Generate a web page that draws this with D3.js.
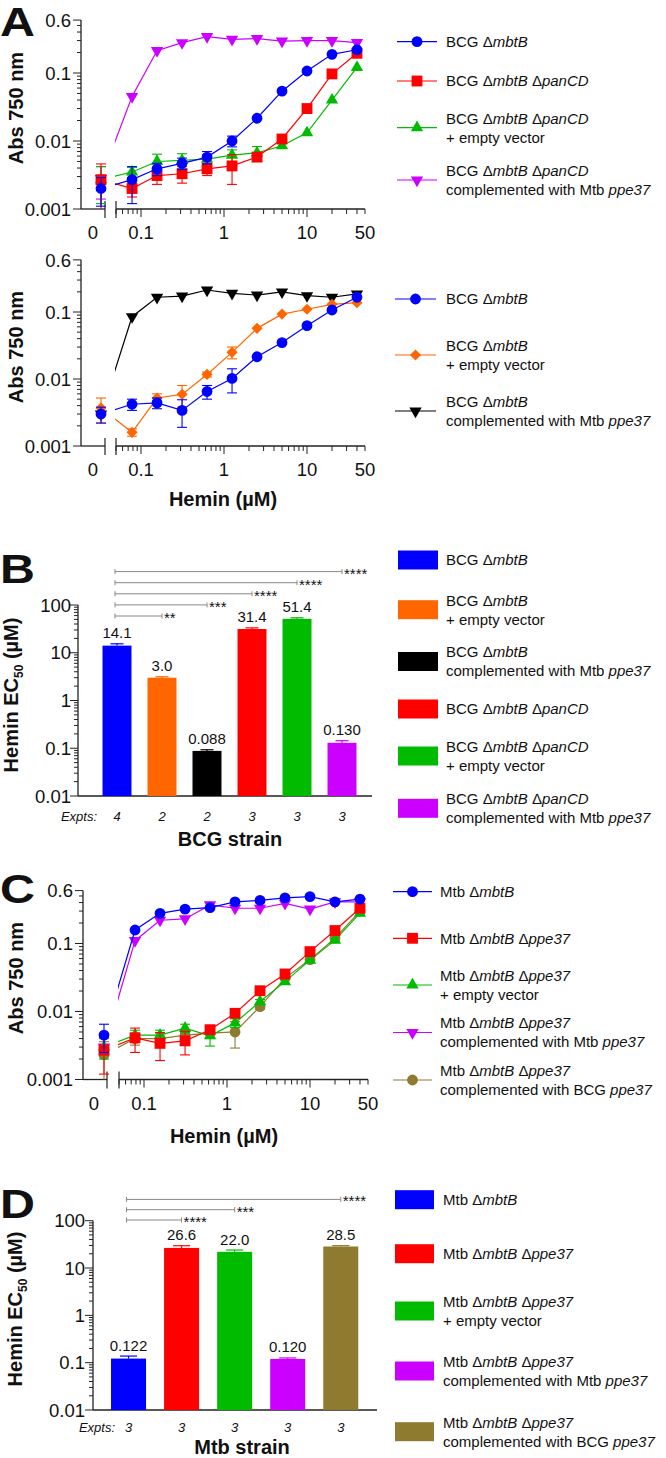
<!DOCTYPE html>
<html><head><meta charset="utf-8">
<script src="https://cdnjs.cloudflare.com/ajax/libs/d3/7.8.5/d3.min.js"></script>
<style>
body{margin:0;background:#fff}
svg{display:block}
text{font-family:"Liberation Sans",Arial,Helvetica,sans-serif;fill:#111}
</style></head><body>
<svg id="fig" width="666" height="1458"></svg>
<script>
// ================= DATA =================
const hemin = [0, 0.078, 0.156, 0.3125, 0.625, 1.25, 2.5, 5, 10, 20, 40];
const curveXTicks = [0.1, 1, 10, 50];
const curveXTickLabels = ["0.1", "1", "10", "50"];
const curveYTicks = [0.001, 0.01, 0.1, 0.6];
const curveYTickLabels = ["0.001", "0.01", "0.1", "0.6"];
const barYTicks = [0.01, 0.1, 1, 10, 100];
const barYTickLabels = ["0.01", "0.1", "1", "10", "100"];

// Panel A (top)
const aTopNames = ["BCG Δ_mbtB_", "BCG Δ_mbtB_ Δ_panCD_", "BCG Δ_mbtB_ Δ_panCD_\n+ empty vector", "BCG Δ_mbtB_ Δ_panCD_\ncomplemented with Mtb _ppe37_"];
const aTopMbtB      = [0.0020, 0.0027, 0.0039, 0.0047, 0.0058, 0.0100, 0.0216, 0.054, 0.107, 0.188, 0.22];
const aTopMbtBErr   = [0.0009, 0.0015, 0.0008, 0.0009, 0.0012, 0.0018, 0, 0, 0, 0, 0];
const aTopPanCD     = [0.0027, 0.0020, 0.0031, 0.0033, 0.0039, 0.0043, 0.0058, 0.0107, 0.030, 0.097, 0.195];
const aTopPanCDErr  = [0.0019, 0.0005, 0.0008, 0.0009, 0.0008, 0.0020, 0.0006, 0, 0, 0, 0];
const aTopEmpty     = [0.0027, 0.0035, 0.0050, 0.0052, 0.0054, 0.0062, 0.0067, 0.0085, 0.0132, 0.040, 0.121];
const aTopEmptyErr  = [0.0015, 0.0006, 0.0014, 0.0013, 0.0009, 0.0012, 0.0016, 0, 0, 0, 0];
const aTopComp      = [0.0028, 0.045, 0.213, 0.279, 0.342, 0.313, 0.32, 0.295, 0.30, 0.30, 0.28];
const aTopCompErr   = [0.0014, 0, 0, 0, 0, 0, 0, 0, 0, 0, 0];

// Panel A (bottom)
const aBotNames = ["BCG Δ_mbtB_", "BCG Δ_mbtB_\n+ empty vector", "BCG Δ_mbtB_\ncomplemented with Mtb _ppe37_"];
const aBotMbtB      = [0.0030, 0.0042, 0.0044, 0.0034, 0.0065, 0.0102, 0.0215, 0.035, 0.0625, 0.107, 0.166];
const aBotMbtBErr   = [0.0008, 0.0008, 0.0008, 0.0015, 0.0015, 0.0040, 0, 0, 0, 0, 0];
const aBotEmpty     = [0.0037, 0.0016, 0.0052, 0.0059, 0.0117, 0.025, 0.057, 0.093, 0.11, 0.13, 0.138];
const aBotEmptyErr  = [0.0015, 0.0002, 0.0008, 0.0021, 0.0010, 0.0050, 0, 0, 0, 0, 0];
const aBotComp      = [0.0030, 0.085, 0.166, 0.173, 0.213, 0.19, 0.179, 0.199, 0.175, 0.166, 0.186];
const aBotCompErr   = [0, 0, 0, 0, 0, 0, 0, 0, 0, 0, 0];

// Panel B
const bStrains = ["BCG Δ_mbtB_", "BCG Δ_mbtB_\n+ empty vector", "BCG Δ_mbtB_\ncomplemented with Mtb _ppe37_", "BCG Δ_mbtB_ Δ_panCD_", "BCG Δ_mbtB_ Δ_panCD_\n+ empty vector", "BCG Δ_mbtB_ Δ_panCD_\ncomplemented with Mtb _ppe37_"];
const bEC50 = [14.1, 3.0, 0.088, 31.4, 51.4, 0.130];
const bEC50Labels = ["14.1", "3.0", "0.088", "31.4", "51.4", "0.130"];
const bErr = [1.3, 0.15, 0.005, 1.8, 2.6, 0.014];
const bExpts = [4, 2, 2, 3, 3, 3];
const bSigTargets = [1, 2, 3, 4, 5];
const bSigLabels = ["**", "***", "****", "****", "****"];

// Panel C
const cNames = ["Mtb Δ_mbtB_", "Mtb Δ_mbtB_ Δ_ppe37_", "Mtb Δ_mbtB_ Δ_ppe37_\n+ empty vector", "Mtb Δ_mbtB_ Δ_ppe37_\ncomplemented with Mtb _ppe37_", "Mtb Δ_mbtB_ Δ_ppe37_\ncomplemented with BCG _ppe37_"];
const cMbtB        = [0.0045, 0.158, 0.278, 0.32, 0.336, 0.41, 0.43, 0.47, 0.49, 0.41, 0.45];
const cMbtBErr     = [0.0020, 0, 0, 0, 0, 0, 0, 0, 0, 0, 0];
const cPpe37       = [0.0027, 0.0041, 0.0034, 0.0037, 0.0054, 0.0094, 0.0202, 0.0356, 0.076, 0.155, 0.33];
const cPpe37Err    = [0.0015, 0.0016, 0.0015, 0.0014, 0.0008, 0.0012, 0.0020, 0, 0, 0, 0];
const cEmpty       = [0.0030, 0.0045, 0.0045, 0.0057, 0.0044, 0.0068, 0.014, 0.0275, 0.057, 0.112, 0.28];
const cEmptyErr    = [0.0010, 0.0008, 0.0008, 0.0008, 0.0013, 0.0010, 0.0010, 0, 0, 0, 0];
const cCompMtb     = [0.0030, 0.11, 0.22, 0.23, 0.37, 0.33, 0.33, 0.39, 0.32, 0.41, 0.41];
const cCompMtbErr  = [0, 0, 0, 0, 0, 0, 0, 0, 0, 0, 0];
const cCompBcg     = [0.0023, 0.0040, 0.0040, 0.0045, 0.0048, 0.0050, 0.0118, 0.031, 0.058, 0.12, 0.30];
const cCompBcgErr  = [0.0013, 0.0008, 0.0008, 0.0008, 0.0008, 0.0021, 0.0010, 0, 0, 0, 0];

// Panel D
const dStrains = ["Mtb Δ_mbtB_", "Mtb Δ_mbtB_ Δ_ppe37_", "Mtb Δ_mbtB_ Δ_ppe37_\n+ empty vector", "Mtb Δ_mbtB_ Δ_ppe37_\ncomplemented with Mtb _ppe37_", "Mtb Δ_mbtB_ Δ_ppe37_\ncomplemented with BCG _ppe37_"];
const dEC50 = [0.122, 26.6, 22.0, 0.120, 28.5];
const dEC50Labels = ["0.122", "26.6", "22.0", "0.120", "28.5"];
const dErr = [0.016, 3.0, 2.0, 0.006, 1.2];
const dExpts = [3, 3, 3, 3, 3];
const dSigTargets = [1, 2, 4];
const dSigLabels = ["****", "***", "****"];

// ================= STYLE =================
const COL = {blue:"#0000FF", red:"#FF0000", green:"#00BB00", magenta:"#CC00FF", orange:"#FF6600", black:"#000000", olive:"#8E7B30"};
const AX = "#222";
const svg = d3.select("#fig");

function rich(sel, str) {
  str.split("_").forEach((part, i) => {
    if (!part) return;
    sel.append("tspan").attr("font-style", i % 2 ? "italic" : "normal").text(part);
  });
}
function multiline(g, x, yc, str, size, gap) {
  const lines = str.split("\n");
  lines.forEach((ln, i) => {
    const t = g.append("text").attr("x", x)
      .attr("y", yc + (i - (lines.length - 1) / 2) * gap)
      .attr("dy", "0.36em").attr("font-size", size);
    rich(t, ln);
  });
}
function symbolPath(kind, size) {
  if (kind === "circle") return d3.symbol(d3.symbolCircle, size || 92)();
  if (kind === "square") return d3.symbol(d3.symbolSquare, size || 118)();
  if (kind === "diamond") return d3.symbol(d3.symbolSquare, size || 62)();
  return d3.symbol(d3.symbolTriangle, size || 66)();
}
function symRot(kind) { return kind === "tdown" ? 180 : (kind === "diamond" ? 45 : 0); }

function panelLetter(ch, x, y) {
  svg.append("text").attr("transform", `translate(${x},${y}) scale(1.18,1)`)
    .attr("font-size", 41).attr("font-weight", "bold").attr("fill", "#000").text(ch);
}
function yTitle(x, y, parts) {
  const t = svg.append("text").attr("transform", `translate(${x},${y}) rotate(-90)`)
    .attr("text-anchor", "middle").attr("font-size", 20).attr("font-weight", "bold");
  parts.forEach(p => {
    const s = t.append("tspan").text(p.t);
    if (p.sub) s.attr("font-size", 12).attr("dy", 5);
    if (p.after) s.attr("dy", -5);
  });
}

// ================= CURVE PANELS =================
function curvePanel(c) {
  const g = svg.append("g");
  const yB = c.yBottom;
  const y = d3.scaleLog().domain([0.001, 0.6]).range([yB, yB - c.decade * Math.log10(600)]);
  const x = d3.scaleLog().domain([0.05, 50]).range([c.x01 - c.xDecade * Math.log10(2), c.x01 + c.xDecade * Math.log10(500)]);
  const px = v => v === 0 ? c.zeroX : x(v);
  const xs = x(0.05);
  const isMajor = t => Math.abs(Math.log10(t) - Math.round(Math.log10(t))) < 1e-6;

  // y axis
  g.append("line").attr("x1", c.axisX).attr("x2", c.axisX).attr("y1", yB).attr("y2", y(0.6)).attr("stroke", AX).attr("stroke-width", 1.3);
  y.ticks().forEach(t => {
    const len = (isMajor(t) || Math.abs(t - 0.6) < 1e-9) ? 8 : 4;
    g.append("line").attr("x1", c.axisX - len).attr("x2", c.axisX).attr("y1", y(t)).attr("y2", y(t)).attr("stroke", AX).attr("stroke-width", 1);
  });
  curveYTicks.forEach((t, i) => {
    g.append("text").attr("x", c.axisX - 10).attr("y", y(t)).attr("dy", "0.36em").attr("text-anchor", "end").attr("font-size", 18.5).text(curveYTickLabels[i]);
  });
  // x axis: zero segment and log segment
  g.append("line").attr("x1", c.axisX).attr("x2", c.breakL).attr("y1", yB).attr("y2", yB).attr("stroke", AX).attr("stroke-width", 1.3);
  g.append("line").attr("x1", xs).attr("x2", x(50)).attr("y1", yB).attr("y2", yB).attr("stroke", AX).attr("stroke-width", 1.3);
  [c.breakL, xs].forEach(bx => g.append("line").attr("x1", bx).attr("x2", bx).attr("y1", yB - 8).attr("y2", yB + 9).attr("stroke", AX).attr("stroke-width", 1.2));
  x.ticks().forEach(t => {
    const len = (isMajor(t) && t < 50) ? 8 : 5;
    g.append("line").attr("x1", x(t)).attr("x2", x(t)).attr("y1", yB).attr("y2", yB + len).attr("stroke", AX).attr("stroke-width", 1);
  });
  curveXTicks.forEach((t, i) => {
    g.append("text").attr("x", x(t)).attr("y", yB + 30).attr("text-anchor", "middle").attr("font-size", 18.5).text(curveXTickLabels[i]);
  });
  g.append("text").attr("x", c.zeroLabelX).attr("y", yB + 30).attr("text-anchor", "middle").attr("font-size", 18.5).text("0");
  if (c.xTitleY) {
    const t = g.append("text").attr("x", c.xTitleX).attr("y", c.xTitleY).attr("text-anchor", "middle").attr("font-size", 20).attr("font-weight", "bold");
    t.text("Hemin (µM)");
  }

  // clip for lines (right segment only)
  const clipId = "clip" + Math.round(yB);
  svg.append("clipPath").attr("id", clipId).append("rect").attr("x", xs - 1).attr("y", 0).attr("width", 666).attr("height", 1458);

  // series (drawn in reverse legend order)
  c.series.slice().reverse().forEach(s => {
    const pts = hemin.map((h, i) => ({x: px(h), v: s.values[i], e: s.err[i]}));
    const line = d3.line().x(d => d.x).y(d => y(d.v));
    g.append("path").attr("d", line(pts)).attr("fill", "none").attr("stroke", s.color).attr("stroke-width", 1.2).attr("clip-path", `url(#${clipId})`);
    pts.forEach(d => {
      if (!d.e) return;
      const lo = Math.max(d.v - d.e, 0.001), hi = d.v + d.e;
      g.append("line").attr("x1", d.x).attr("x2", d.x).attr("y1", y(lo)).attr("y2", y(hi)).attr("stroke", s.color).attr("stroke-width", 1.1);
      g.append("line").attr("x1", d.x - 5).attr("x2", d.x + 5).attr("y1", y(hi)).attr("y2", y(hi)).attr("stroke", s.color).attr("stroke-width", 1.1);
      if (d.v - d.e > 0.001) g.append("line").attr("x1", d.x - 5).attr("x2", d.x + 5).attr("y1", y(lo)).attr("y2", y(lo)).attr("stroke", s.color).attr("stroke-width", 1.1);
    });
    pts.forEach(d => {
      g.append("path").attr("d", symbolPath(s.sym)).attr("fill", s.color)
        .attr("transform", `translate(${d.x},${y(d.v)}) rotate(${symRot(s.sym)})`);
    });
  });

  // legend
  const L = c.legend;
  c.series.forEach((s, i) => {
    const ly = L.ys[i];
    g.append("line").attr("x1", L.x1).attr("x2", L.x2).attr("y1", ly).attr("y2", ly).attr("stroke", s.color).attr("stroke-width", 1.2);
    g.append("path").attr("d", symbolPath(s.sym)).attr("fill", s.color)
      .attr("transform", `translate(${(L.x1 + L.x2) / 2},${ly}) rotate(${symRot(s.sym)})`);
    multiline(g, L.tx, ly, s.name, 15, 19);
  });
}

// ================= BAR PANELS =================
function barPanel(c) {
  const g = svg.append("g");
  const y = d3.scaleLog().domain([0.01, 100]).range([c.yBottom, c.yTop]);
  const x = d3.scaleBand().domain(d3.range(c.values.length)).range(c.band).paddingInner(c.pad).paddingOuter(c.pad / 2);
  const isMajor = t => Math.abs(Math.log10(t) - Math.round(Math.log10(t))) < 1e-6;
  // axes
  g.append("line").attr("x1", c.axisX).attr("x2", c.axisX).attr("y1", c.yBottom).attr("y2", c.yTop).attr("stroke", AX).attr("stroke-width", 1.3);
  g.append("line").attr("x1", c.axisX).attr("x2", c.axisEnd).attr("y1", c.yBottom).attr("y2", c.yBottom).attr("stroke", AX).attr("stroke-width", 1.3);
  y.ticks().forEach(t => {
    const len = isMajor(t) ? 8 : 4;
    g.append("line").attr("x1", c.axisX - len).attr("x2", c.axisX).attr("y1", y(t)).attr("y2", y(t)).attr("stroke", AX).attr("stroke-width", 1);
  });
  barYTicks.forEach((t, i) => {
    g.append("text").attr("x", c.axisX - c.labelGap).attr("y", y(t)).attr("dy", "0.36em").attr("text-anchor", "end").attr("font-size", 18.5).text(barYTickLabels[i]);
  });
  // bars
  c.values.forEach((v, i) => {
    const bx = x(i), bw = x.bandwidth(), cx = bx + bw / 2;
    g.append("rect").attr("x", bx).attr("y", y(v)).attr("width", bw).attr("height", c.yBottom - y(v)).attr("fill", c.colors[i]);
    const top = y(v + c.err[i]);
    g.append("line").attr("x1", cx).attr("x2", cx).attr("y1", y(v)).attr("y2", top).attr("stroke", c.colors[i]).attr("stroke-width", 1.2);
    g.append("line").attr("x1", cx - c.cap / 2).attr("x2", cx + c.cap / 2).attr("y1", top).attr("y2", top).attr("stroke", c.colors[i]).attr("stroke-width", 1.2);
    g.append("text").attr("x", cx).attr("y", top - 5.5).attr("text-anchor", "middle").attr("font-size", 15).text(c.labels[i]);
    g.append("text").attr("x", cx).attr("y", c.exptY).attr("text-anchor", "middle").attr("font-size", 13).attr("font-style", "italic").text(c.expts[i]);
  });
  g.append("text").attr("x", c.exptLabelX).attr("y", c.exptY).attr("text-anchor", "end").attr("font-size", 13).attr("font-style", "italic").text("Expts:");
  g.append("text").attr("x", c.xTitleX).attr("y", c.xTitleY).attr("text-anchor", "middle").attr("font-size", 20).attr("font-weight", "bold").text(c.xTitle);
  // significance
  const x0 = x(0) + x.bandwidth() / 2 - 2;
  c.sigTargets.forEach((tIdx, k) => {
    const ly = c.sigBottom - k * c.sigGap;
    const x1 = x(tIdx) + x.bandwidth() / 2;
    g.append("line").attr("x1", x0).attr("x2", x1).attr("y1", ly).attr("y2", ly).attr("stroke", "#888").attr("stroke-width", 1);
    [x0, x1].forEach(ex => g.append("line").attr("x1", ex).attr("x2", ex).attr("y1", ly - 2.5).attr("y2", ly + 2.5).attr("stroke", "#888").attr("stroke-width", 1));
    g.append("text").attr("x", x1 + 2).attr("y", ly + 7).attr("font-size", 15).attr("fill", "#111").text(c.sigLabels[k]);
  });
  // legend
  const L = c.legend;
  c.names.forEach((n, i) => {
    const ly = L.ys[i];
    g.append("rect").attr("x", L.x1).attr("y", ly - 9.5).attr("width", L.x2 - L.x1).attr("height", 19).attr("fill", c.colors[i]);
    multiline(g, L.tx, ly, n, 15, 19);
  });
}

// ================= BUILD =================
panelLetter("A", 0, 36);
yTitle(23, 108, [{t: "Abs 750 nm"}]);
curvePanel({
  yBottom: 209, decade: 68, x01: 141, xDecade: 83, axisX: 81, zeroX: 101, zeroLabelX: 93, breakL: 105,
  series: [
    {name: aTopNames[0], values: aTopMbtB, err: aTopMbtBErr, color: COL.blue, sym: "circle"},
    {name: aTopNames[1], values: aTopPanCD, err: aTopPanCDErr, color: COL.red, sym: "square"},
    {name: aTopNames[2], values: aTopEmpty, err: aTopEmptyErr, color: COL.green, sym: "tup"},
    {name: aTopNames[3], values: aTopComp, err: aTopCompErr, color: COL.magenta, sym: "tdown"}
  ],
  legend: {x1: 397, x2: 437, tx: 446, ys: [41.7, 81, 127.7, 180]}
});

yTitle(23, 347, [{t: "Abs 750 nm"}]);
curvePanel({
  yBottom: 446, decade: 67, x01: 141, xDecade: 83, axisX: 81, zeroX: 101, zeroLabelX: 93, breakL: 105,
  xTitleX: 223, xTitleY: 506,
  series: [
    {name: aBotNames[0], values: aBotMbtB, err: aBotMbtBErr, color: COL.blue, sym: "circle"},
    {name: aBotNames[1], values: aBotEmpty, err: aBotEmptyErr, color: COL.orange, sym: "diamond"},
    {name: aBotNames[2], values: aBotComp, err: aBotCompErr, color: COL.black, sym: "tdown"}
  ],
  legend: {x1: 395, x2: 436, tx: 446, ys: [299, 355, 411]}
});

panelLetter("B", 0, 583);
yTitle(18, 695, [{t: "Hemin EC"}, {t: "50", sub: true}, {t: " (µM)", after: true}]);
barPanel({
  yBottom: 796, yTop: 605, axisX: 78, axisEnd: 372, labelGap: 7, band: [94.5, 364.5], pad: 0.356, cap: 13,
  values: bEC50, err: bErr, labels: bEC50Labels, expts: bExpts, names: bStrains,
  colors: [COL.blue, COL.orange, COL.black, COL.red, COL.green, COL.magenta],
  exptY: 821, exptLabelX: 97, xTitle: "BCG strain", xTitleX: 230, xTitleY: 846,
  sigTargets: bSigTargets, sigLabels: bSigLabels, sigBottom: 616, sigGap: 11.1,
  legend: {x1: 398, x2: 438, tx: 446, ys: [560, 609.7, 661.5, 709, 756, 808.3]}
});

panelLetter("C", 0, 903);
yTitle(23, 978, [{t: "Abs 750 nm"}]);
curvePanel({
  yBottom: 1079.5, decade: 68, x01: 144, xDecade: 83, axisX: 83, zeroX: 104, zeroLabelX: 94, breakL: 107,
  xTitleX: 224, xTitleY: 1143,
  series: [
    {name: cNames[0], values: cMbtB, err: cMbtBErr, color: COL.blue, sym: "circle"},
    {name: cNames[1], values: cPpe37, err: cPpe37Err, color: COL.red, sym: "square"},
    {name: cNames[2], values: cEmpty, err: cEmptyErr, color: COL.green, sym: "tup"},
    {name: cNames[3], values: cCompMtb, err: cCompMtbErr, color: COL.magenta, sym: "tdown"},
    {name: cNames[4], values: cCompBcg, err: cCompBcgErr, color: COL.olive, sym: "circle"}
  ],
  legend: {x1: 393, x2: 432, tx: 440, ys: [891.7, 938.3, 985, 1032.5, 1080]}
});

panelLetter("D", 0, 1218);
yTitle(22, 1309, [{t: "Hemin EC"}, {t: "50", sub: true}, {t: " (µM)", after: true}]);
barPanel({
  yBottom: 1410, yTop: 1220.7, axisX: 93, axisEnd: 377, labelGap: 8, band: [102, 367.3], pad: 0.34, cap: 17,
  values: dEC50, err: dErr, labels: dEC50Labels, expts: dExpts, names: dStrains,
  colors: [COL.blue, COL.red, COL.green, COL.magenta, COL.olive],
  exptY: 1432, exptLabelX: 115, xTitle: "Mtb strain", xTitleX: 242, xTitleY: 1454,
  sigTargets: dSigTargets, sigLabels: dSigLabels, sigBottom: 1220, sigGap: 10.3,
  legend: {x1: 395, x2: 434, tx: 443, ys: [1199.7, 1253.7, 1311, 1371, 1431.7]}
});
</script>
</body></html>
